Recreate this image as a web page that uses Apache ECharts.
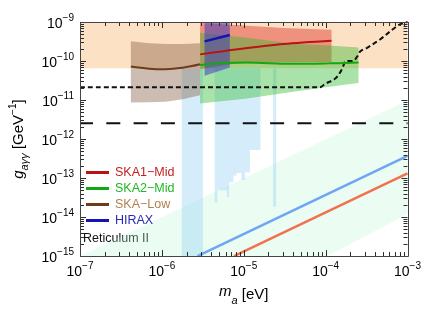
<!DOCTYPE html>
<html><head><meta charset="utf-8">
<script src="https://cdn.jsdelivr.net/npm/echarts@6/dist/echarts.min.js"></script>
<style>html,body{margin:0;padding:0;background:#fff}#c{width:424px;height:311px}</style>
</head><body><div id="c"></div>
<script>
// ---------- axis ----------
const xMin = 1e-7, xMax = 1e-3;
const yMin = 1e-15, yMax = 1e-9;
const xTickLabels = [1e-7, 1e-6, 1e-5, 1e-4, 1e-3];
const yTickLabels = [1e-15, 1e-14, 1e-13, 1e-12, 1e-11, 1e-10, 1e-9];

// ---------- bounds ----------
const orangeM = [1e-7, 1e-3];
const orangeTop = [1e-9, 1e-9];
const orangeBottom = [6.55e-11, 6.55e-11];

const halo1M = [1.75e-6, 3.17e-6];
const halo1Bottom = 1e-15;
const haloTop = 6.55e-11;
const halo2Edges = [4.42e-6, 4.76e-6, 5.55e-6, 6.23e-6, 6.63e-6, 7.47e-6, 8.17e-6, 9.35e-6, 1.04e-5, 1.19e-5, 1.60e-5];
const halo2Bottoms = [2.32e-14, 4.84e-14, 4.84e-14, 3.28e-14, 7.84e-14, 1.16e-13, 1.34e-13, 8.95e-14, 1.40e-13, 5.22e-13];
const halo3M = [2.28e-5, 2.49e-5];
const halo3Bottom = 1.84e-14;

const mintM = [1e-7, 1e-3, 1e-3, 1.05e-4];
const mintG = [1e-15, 9.8e-12, 1.2e-14, 1e-15];

const blueLineM = [2.72e-6, 1e-3];
const blueLineG = [1e-15, 3.7e-13];
const redLineM = [7.6e-6, 1e-3];
const redLineG = [1e-15, 1.32e-13];

const helioM = [1e-7, 8.6e-5, 9.8e-5, 1.29e-4, 1.51e-4, 1.64e-4, 1.78e-4, 2.14e-4, 2.45e-4, 2.66e-4, 3.21e-4, 4.57e-4, 7.84e-4, 1e-3];
const helioG = [2.12e-11, 2.14e-11, 2.59e-11, 3.46e-11, 5.19e-11, 7.48e-11, 1.0e-10, 1.0e-10, 1.34e-10, 1.79e-10, 2.18e-10, 3.52e-10, 8.4e-10, 1e-9];
const longDashM = [1e-7, 1e-3];
const longDashG = [2.55e-12, 2.55e-12];

const skaLowM = [4.18e-7, 6.99e-7, 1.11e-6, 1.80e-6, 2.93e-6];
const skaLowTop = [3.2e-10, 2.85e-10, 2.72e-10, 2.72e-10, 2.85e-10];
const skaLowBottom = [8.6e-12, 8.8e-12, 9.1e-12, 1.05e-11, 1.33e-11];
const skaLowLine = [7.23e-11, 6.37e-11, 6.18e-11, 6.75e-11, 8.26e-11];

const ska1M = [2.93e-6, 7.95e-6, 3.07e-5, 1.18e-4];
const ska1Top = [9.44e-10, 8.4e-10, 7.06e-10, 6.29e-10];
const ska1Bottom = [6.18e-11, 8.6e-11, 9.27e-11, 9.5e-11];
const ska1Line = [1.48e-10, 1.97e-10, 2.74e-10, 3.32e-10];

const ska2M = [2.93e-6, 1.04e-5, 4.02e-5, 1.11e-4, 2.52e-4];
const ska2Top = [5.29e-10, 4.0e-10, 2.79e-10, 2.49e-10, 2.21e-10];
const ska2Bottom = [8.11e-12, 1.08e-11, 1.63e-11, 2.2e-11, 2.74e-11];
const ska2Line = [7.93e-11, 9.12e-11, 8.5e-11, 8.72e-11, 9.12e-11];

const hiraxM = [3.32e-6, 6.76e-6];
const hiraxTop = [1e-9, 1e-9];
const hiraxBottom = [4.19e-11, 6.82e-11];
const hiraxLine = [3.19e-10, 4.63e-10];

// ---------- helpers ----------
const zip = (a, b) => a.map((v, i) => [v, b[i]]);
function bandPts(m, top, bottom) {
  return zip(m, top).concat(zip(m, bottom).reverse());
}
function polySeries(name, pts, fill) {
  return {
    type: 'custom', name: name, silent: true, clip: true,
    data: [[1e-5, 1e-12]],
    renderItem: function (params, api) {
      return { type: 'polygon', shape: { points: pts.map(p => api.coord(p)) }, style: { fill: fill } };
    }
  };
}
function lineSeries(name, m, g, color, width, dash, smooth) {
  return {
    type: 'line', name: name, data: zip(m, g), showSymbol: false, symbol: 'none', silent: true,
    smooth: smooth || false, color: color,
    lineStyle: { color: color, width: width, type: dash || 'solid' }
  };
}
const halo1Pts = [[halo1M[0], haloTop], [halo1M[1], haloTop], [halo1M[1], halo1Bottom], [halo1M[0], halo1Bottom]];
const halo2Pts = [[halo2Edges[0], haloTop]];
halo2Bottoms.forEach((b, i) => { halo2Pts.push([halo2Edges[i], b]); halo2Pts.push([halo2Edges[i + 1], b]); });
halo2Pts.push([halo2Edges[halo2Edges.length - 1], haloTop]);
const halo3Pts = [[halo3M[0], haloTop], [halo3M[1], haloTop], [halo3M[1], halo3Bottom], [halo3M[0], halo3Bottom]];

// log tick positions (axis decoration)
function logTicks(lo, hi) {
  const out = [];
  for (let d = Math.round(Math.log10(lo)); d <= Math.round(Math.log10(hi)); d++) {
    for (let k = 1; k <= 9; k++) {
      const v = k * Math.pow(10, d);
      if (v > hi * 1.0001) break;
      out.push([v, k === 1 ? 1 : 0]);
    }
  }
  return out;
}
const xTickVals = logTicks(xMin, xMax);
const yTickVals = logTicks(yMin, yMax);

function tickSeries(isX) {
  const vals = isX ? xTickVals : yTickVals;
  return {
    type: 'custom', silent: true, clip: false, z: 10,
    data: vals.map(t => isX ? [t[0], 1e-12, t[1]] : [1e-5, t[0], t[1]]),
    renderItem: function (params, api) {
      const major = api.value(2) === 1;
      const L = major ? 6 : 4;
      const tl = api.coord([xMin, yMax]), br = api.coord([xMax, yMin]);
      const st = { stroke: '#2a2a2a', lineWidth: 1 };
      if (isX) {
        const px = Math.round(api.coord([api.value(0), 1e-12])[0]) + 0.5;
        return { type: 'group', children: [
          { type: 'line', shape: { x1: px, y1: br[1], x2: px, y2: br[1] - L }, style: st },
          { type: 'line', shape: { x1: px, y1: tl[1], x2: px, y2: tl[1] + L }, style: st }
        ] };
      } else {
        const py = Math.round(api.coord([1e-5, api.value(1)])[1]) + 0.5;
        return { type: 'group', children: [
          { type: 'line', shape: { x1: tl[0], y1: py, x2: tl[0] + L, y2: py }, style: st },
          { type: 'line', shape: { x1: br[0], y1: py, x2: br[0] - L, y2: py }, style: st }
        ] };
      }
    }
  };
}
function frameSeries() {
  return {
    type: 'custom', silent: true, clip: false, z: 11,
    data: [[1e-5, 1e-12]],
    renderItem: function (params, api) {
      const tl = api.coord([xMin, yMax]), br = api.coord([xMax, yMin]);
      return { type: 'rect', shape: { x: Math.round(tl[0]) + 0.5, y: Math.round(tl[1]) + 0.5, width: Math.round(br[0] - tl[0]), height: Math.round(br[1] - tl[1]) }, style: { fill: null, stroke: '#444', lineWidth: 1 } };
    }
  };
}

function expLabel(v) {
  const e = Math.round(Math.log10(v));
  return '{b|10}{s|' + (e < 0 ? '\u2212' + (-e) : e) + '}';
}
const labelRich = {
  b: { fontSize: 14, lineHeight: 18, verticalAlign: 'bottom', color: '#000', fontFamily: 'Liberation Sans' },
  s: { fontSize: 10, lineHeight: 12, verticalAlign: 'top', color: '#000', fontFamily: 'Liberation Sans' }
};

const colSKA1 = '#b81414', colSKA2 = '#12a812', colLow = '#6b3d1c', colHirax = '#1414b4';

const chart = echarts.init(document.getElementById('c'), null, { renderer: 'canvas' });
chart.setOption({
  animation: false,
  textStyle: { fontFamily: 'Liberation Sans' },
  grid: { left: 68, right: 15, top: 22, bottom: 51 },
  xAxis: {
    type: 'log', min: xMin, max: xMax, logBase: 10, splitNumber: 4,
    axisLine: { show: false }, axisTick: { show: false }, splitLine: { show: false },
    axisLabel: { margin: 5, formatter: expLabel, rich: labelRich, customValues: xTickLabels },
    name: '{i|m}{sub|a} [eV]', nameLocation: 'middle', nameGap: 27,
    nameTextStyle: { rich: {
      i: { fontSize: 15, fontStyle: 'italic', fontFamily: 'Liberation Sans', color: '#000', lineHeight: 18, verticalAlign: 'top' },
      sub: { fontSize: 11, fontStyle: 'italic', fontFamily: 'Liberation Sans', color: '#000', lineHeight: 22, verticalAlign: 'bottom' }
    }, fontSize: 15, color: '#000' }
  },
  yAxis: {
    type: 'log', min: yMin, max: yMax, logBase: 10, splitNumber: 6,
    axisLine: { show: false }, axisTick: { show: false }, splitLine: { show: false },
    axisLabel: { margin: 6, formatter: expLabel, rich: labelRich, customValues: yTickLabels },
    name: '{i|g}{sub|aγγ} [GeV{sup|\u22121}]', nameLocation: 'middle', nameGap: 50, nameRotate: 90,
    nameTextStyle: { rich: {
      i: { fontSize: 15, fontStyle: 'italic', fontFamily: 'Liberation Sans', color: '#000', lineHeight: 18 },
      sub: { fontSize: 11, fontStyle: 'italic', fontFamily: 'Liberation Sans', color: '#000', lineHeight: 22, verticalAlign: 'bottom' },
      sup: { fontSize: 10, fontFamily: 'Liberation Sans', color: '#000', lineHeight: 14, verticalAlign: 'top' }
    }, fontSize: 15, color: '#000' }
  },
  legend: {
    orient: 'vertical', left: 81, top: 161, itemWidth: 23, itemHeight: 3, itemGap: 3, icon: 'rect',
    textStyle: { fontSize: 12.5, fontFamily: 'Liberation Sans', padding: [0, 0, 0, 1] },
    data: [
      { name: 'SKA1\u2212Mid', textStyle: { color: '#c42020' } },
      { name: 'SKA2\u2212Mid', textStyle: { color: '#22b522' } },
      { name: 'SKA\u2212Low', textStyle: { color: '#b0804f' } },
      { name: 'HIRAX', textStyle: { color: '#2a2ab8' } }
    ],
    selectedMode: false
  },
  graphic: [{ type: 'text', left: 83, top: 232, style: { text: 'Reticulum II', fontSize: 12.5, fontFamily: 'Liberation Sans', fill: '#111' } }],
  series: [
    polySeries('mint', zip(mintM, mintG), 'rgba(190,245,215,0.3)'),
    polySeries('halo1', halo1Pts, 'rgba(150,210,245,0.4)'),
    polySeries('halo2', halo2Pts, 'rgba(150,210,245,0.4)'),
    polySeries('halo3', halo3Pts, 'rgba(150,210,245,0.4)'),
    polySeries('orange', bandPts(orangeM, orangeTop, orangeBottom), '#fde1c4'),
    lineSeries('retBlue', blueLineM, blueLineG, '#6ea6f4', 2.5),
    lineSeries('retRed', redLineM, redLineG, '#f3714e', 2.5),
    lineSeries('helio', helioM, helioG, '#111', 2, [5, 3], 0.35),
    Object.assign(lineSeries('longdash', longDashM, longDashG, '#111', 2, [14, 13.3]), { lineStyle: { color: '#111', width: 2, type: [14, 13.3], dashOffset: 1 } }),
    polySeries('lowBand', bandPts(skaLowM, skaLowTop, skaLowBottom), 'rgba(120,80,50,0.38)'),
    lineSeries('SKA\u2212Low', skaLowM, skaLowLine, colLow, 2, null, 0.4),
    polySeries('ska1Band', bandPts(ska1M, ska1Top, ska1Bottom), 'rgba(220,50,40,0.45)'),
    lineSeries('SKA1\u2212Mid', ska1M, ska1Line, colSKA1, 2, null, 0.3),
    polySeries('ska2Band', bandPts(ska2M, ska2Top, ska2Bottom), 'rgba(40,185,40,0.4)'),
    lineSeries('SKA2\u2212Mid', ska2M, ska2Line, colSKA2, 2, null, 0.4),
    polySeries('hiraxBand', bandPts(hiraxM, hiraxTop, hiraxBottom), 'rgba(50,50,190,0.5)'),
    lineSeries('HIRAX', hiraxM, hiraxLine, colHirax, 2.5),
    tickSeries(true),
    tickSeries(false),
    frameSeries()
  ]
});
</script>
</body></html>
